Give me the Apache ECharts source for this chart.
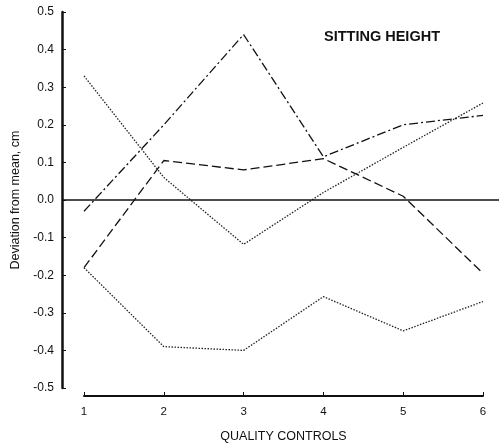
<!DOCTYPE html>
<html><head><meta charset="utf-8">
<script src="https://cdn.jsdelivr.net/npm/echarts@6/dist/echarts.min.js"></script>
<style>html,body{margin:0;padding:0;background:#fff}#c{width:499px;height:448px}</style>
</head><body><div id="c"></div>
<script>
const categories = [1, 2, 3, 4, 5, 6];
const seriesDashDot = [-0.03, 0.2, 0.44, 0.115, 0.2, 0.225];
const seriesDashed = [-0.18, 0.105, 0.08, 0.11, 0.01, -0.195];
const seriesDotTop = [0.33, 0.06, -0.118, 0.02, 0.14, 0.258];
const seriesDotBottom = [-0.18, -0.39, -0.4, -0.257, -0.348, -0.27];
const yTicks = [-0.5, 0.5, 0.1];

const pairs = v => categories.map((c, i) => [c, v[i]]);
const chart = echarts.init(document.getElementById('c'));
const font = 'Liberation Sans, Arial, sans-serif';
const base = {type: 'line', xAxisIndex: 0, yAxisIndex: 0, symbol: 'none', silent: true, animation: false};
chart.setOption({
  animation: false,
  title: {text: 'SITTING HEIGHT', left: 377, top: 24, textAlign: 'center',
    textStyle: {fontFamily: font, fontSize: 14.5, fontWeight: 'bold', color: '#111'}},
  grid: [
    {left: 62, right: 0, top: 12, height: 376},
    {left: 84, width: 399, top: 12, height: 386}
  ],
  xAxis: [
    {gridIndex: 0, type: 'value', min: 1 - 22 / 79.8, max: 6 + 16 / 79.8, show: false},
    {gridIndex: 1, type: 'value', min: 1, max: 6, interval: 1,
      name: 'QUALITY CONTROLS', nameLocation: 'middle', nameGap: 34,
      nameTextStyle: {fontFamily: font, fontSize: 12.5, color: '#111'},
      axisLine: {show: true, lineStyle: {color: '#111', width: 2}},
      axisTick: {show: true, inside: true, length: 4, lineStyle: {color: '#111'}},
      axisLabel: {margin: 10, fontFamily: font, fontSize: 11.5, color: '#111'},
      splitLine: {show: false}}
  ],
  yAxis: [
    {gridIndex: 0, type: 'value', min: yTicks[0], max: yTicks[1], interval: yTicks[2],
      name: 'Deviation from mean, cm', nameLocation: 'middle', nameGap: 34,
      nameTextStyle: {fontFamily: font, fontSize: 12.5, color: '#111'},
      axisLine: {show: true, lineStyle: {color: '#111', width: 2.5}},
      axisTick: {show: true, inside: true, length: 4, lineStyle: {color: '#111'}},
      axisLabel: {margin: 8, fontFamily: font, fontSize: 12, color: '#111',
        formatter: v => v.toFixed(1)},
      splitLine: {show: false}},
    {gridIndex: 1, type: 'value', show: false}
  ],
  series: [
    Object.assign({}, base, {data: pairs(seriesDashDot),
      lineStyle: {color: '#111', width: 1.3, type: [9, 3, 2, 3]},
      markLine: {silent: true, symbol: 'none', label: {show: false},
        lineStyle: {color: '#111', width: 1.5, type: 'solid'}, data: [{yAxis: 0}]}}),
    Object.assign({}, base, {data: pairs(seriesDashed),
      lineStyle: {color: '#111', width: 1.3, type: [9, 4]}}),
    Object.assign({}, base, {data: pairs(seriesDotTop),
      lineStyle: {color: '#222', width: 1.3, type: [1.5, 1.5]}}),
    Object.assign({}, base, {data: pairs(seriesDotBottom),
      lineStyle: {color: '#222', width: 1.3, type: [1.5, 1.5]}})
  ]
});
</script></body></html>
